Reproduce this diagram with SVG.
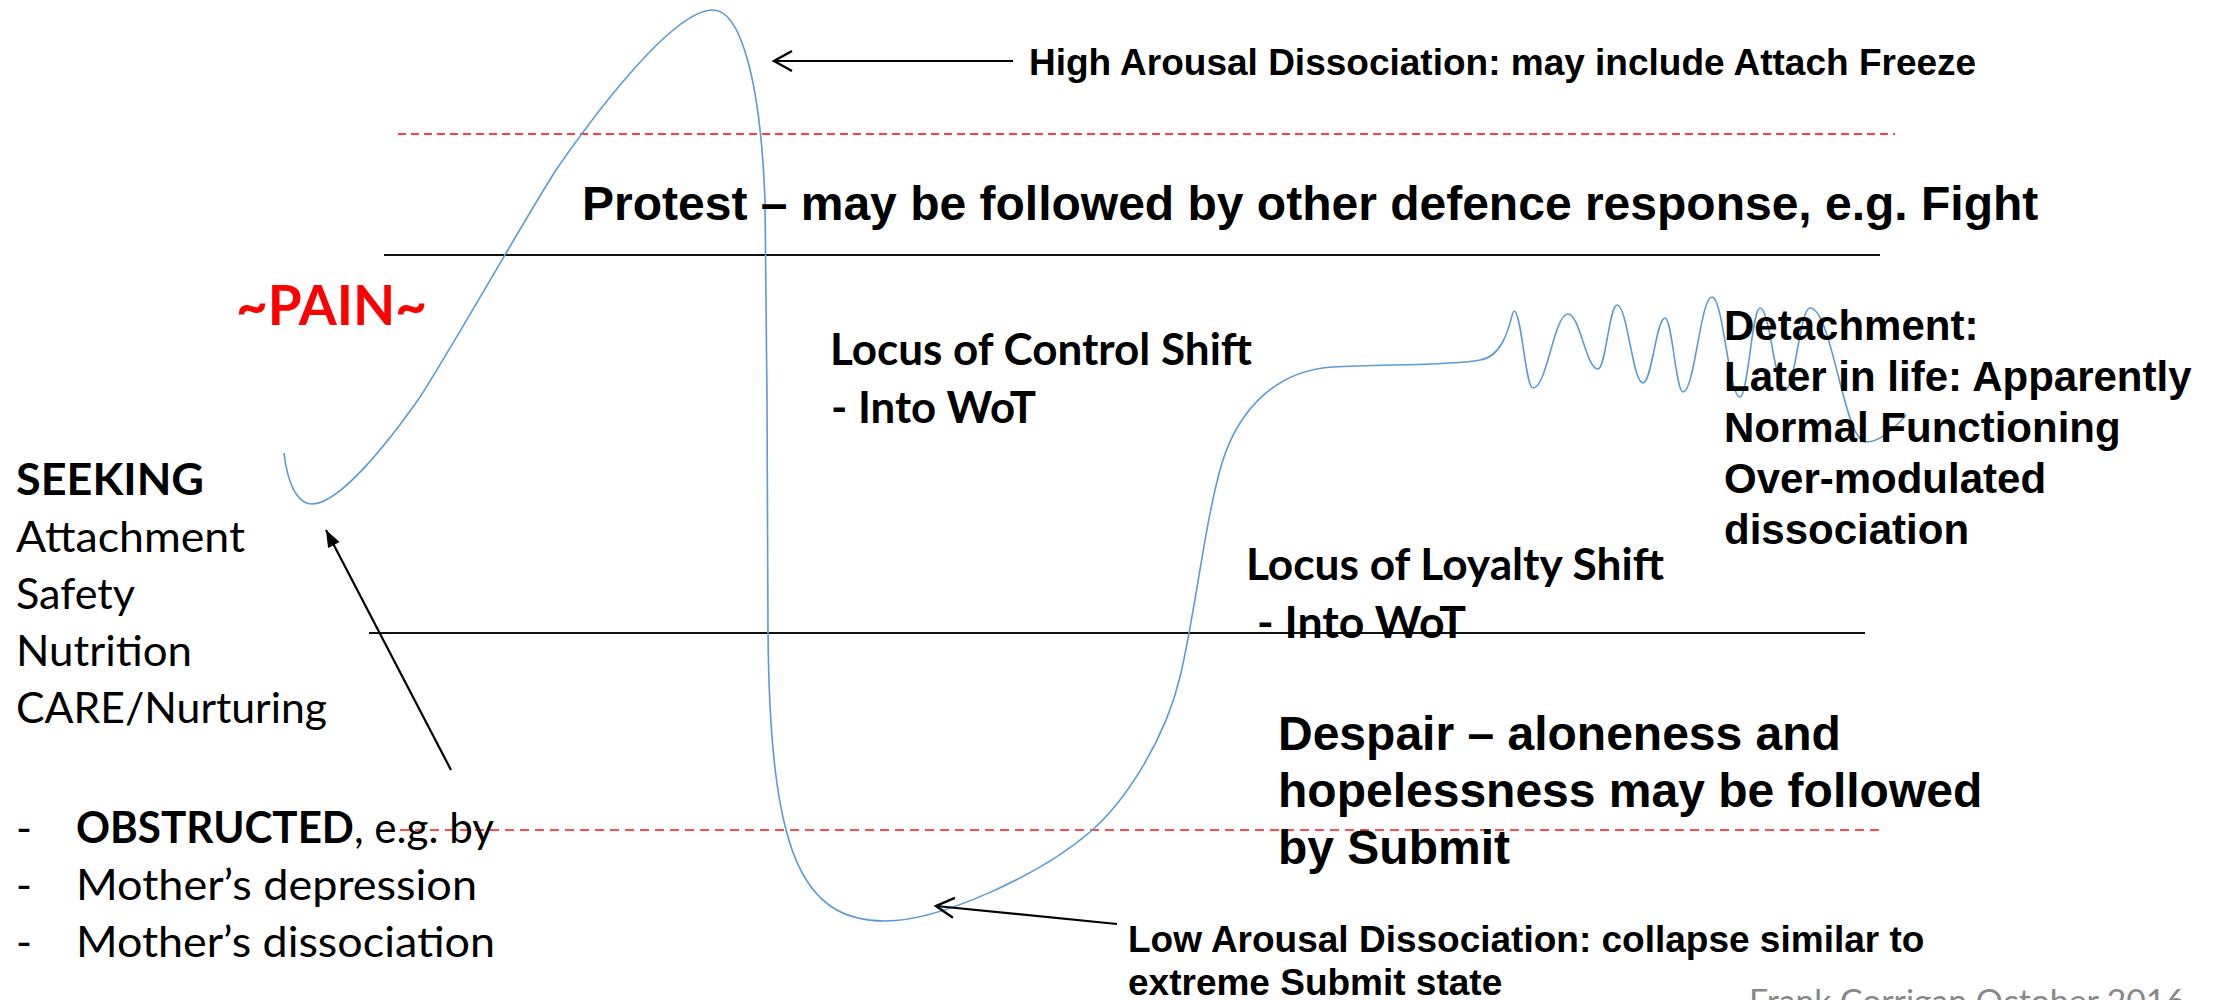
<svg xmlns="http://www.w3.org/2000/svg" width="2226" height="1000" viewBox="0 0 2226 1000">
  <style>
    .cal { font-family: Lato, "Open Sans", sans-serif; font-size: 43px; fill: #000; }
    .calb { font-family: Lato, "Open Sans", sans-serif; font-size: 43px; font-weight: bold; fill: #000; }
    .ari { font-family: "Liberation Sans", Arial, sans-serif; font-weight: bold; fill: #000; }
    .red-dash { stroke: #ff0000; stroke-width: 1.5; stroke-dasharray: 8 5; fill: none; }
    .red-dash2 { stroke: #ff4b4b; stroke-width: 2; stroke-dasharray: 9 6; fill: none; }
    .rule { stroke: #111; stroke-width: 2; fill: none; }
    .wave { stroke: #5b9bd5; stroke-width: 1.6; fill: none; }
    .arrow { stroke: #000; stroke-width: 2.2; fill: none; }
  </style>
  <defs>
    <marker id="open-head" markerUnits="userSpaceOnUse" markerWidth="24" markerHeight="26" viewBox="-21 -13 24 26" refX="0" refY="0" orient="auto" overflow="visible">
      <path d="M -18 -10 L 0 0 L -18 10" fill="none" stroke="#000" stroke-width="2.4" stroke-linejoin="miter"/>
    </marker>
    <marker id="solid-head" markerUnits="userSpaceOnUse" markerWidth="20" markerHeight="16" viewBox="-18 -8 20 16" refX="0" refY="0" orient="auto" overflow="visible">
      <path d="M 0 0 L -17 -6.5 L -17 6.5 Z" fill="#000"/>
    </marker>
  </defs>
  <rect x="0" y="0" width="2226" height="1000" fill="#fff"/>

  <g id="guide-lines">
    <line class="red-dash" x1="398" y1="134" x2="1895" y2="134"/>
    <line class="rule" x1="384" y1="255" x2="1880" y2="255"/>
    <line class="rule" x1="369" y1="633" x2="1865" y2="633"/>
    <line class="red-dash2" x1="385" y1="830" x2="1880" y2="830"/>
  </g>

  <g id="arousal-curve">
    <path class="wave" d="M 284 453 C 287 480 296 504 312 504 C 340 504 390 440 420 397 C 450 351 527 215 556 170 C 585 128 670 10 713 10 C 738 10 760 70 765 200 L 767 400 L 768 633 C 770 850 800 921 885 921 C 940 921 1040 875 1090 832 C 1125 802 1165 740 1180 677 C 1195 615 1205 520 1222 463 C 1240 405 1280 370 1333 367 C 1380 364 1450 366 1480 360 C 1508 356 1511 311 1514 311 C 1521.6 311 1525.4 388 1533 388 C 1547 388 1554 314 1568 314 C 1580 314 1586 369 1598 369 C 1605.6 369 1609.4 305 1617 305 C 1627.4 305 1632.6 383 1643 383 C 1651.8 383 1656.2 318 1665 318 C 1672.2 318 1675.8 392 1683 392 C 1694.6 392 1700.4 297 1712 297 C 1723.2 297 1728.8 397 1740 397 C 1748 397 1752 308 1760 308 C 1770 308 1775 390 1785 390 C 1795 390 1800 308 1810 308 C 1832 308 1844 442 1866 442 C 1880 442 1895 428 1906 415"/>
  </g>

  <g id="connectors">
    <line class="arrow" x1="1013" y1="61" x2="774" y2="61" marker-end="url(#open-head)"/>
    <line class="arrow" x1="1117" y1="924" x2="936" y2="906" stroke-width="2.6" marker-end="url(#open-head)"/>
    <line class="arrow" x1="451" y1="770" x2="326" y2="530" marker-end="url(#solid-head)"/>
  </g>

  <g id="label-high-arousal">
    <text class="ari" x="1029" y="75" font-size="37">High Arousal Dissociation: may include Attach Freeze</text>
  </g>

  <g id="label-protest">
    <text class="ari" x="582" y="220" font-size="48">Protest – may be followed by other defence response, e.g. Fight</text>
  </g>

  <g id="label-pain">
    <text class="calb" x="236" y="325" style="font-size:56px;fill:#ff0000" textLength="191" lengthAdjust="spacingAndGlyphs">~PAIN~</text>
  </g>

  <g id="label-seeking">
    <text class="calb" x="16" y="495" textLength="188" lengthAdjust="spacingAndGlyphs">SEEKING</text>
    <text class="cal" x="16" y="552" textLength="229" lengthAdjust="spacingAndGlyphs">Attachment</text>
    <text class="cal" x="16" y="609" textLength="119" lengthAdjust="spacingAndGlyphs">Safety</text>
    <text class="cal" x="16" y="666" textLength="176" lengthAdjust="spacingAndGlyphs">Nutrition</text>
    <text class="cal" x="16" y="723" textLength="311" lengthAdjust="spacingAndGlyphs">CARE/Nurturing</text>
  </g>

  <g id="label-obstructed">
    <text class="cal" x="16" y="843">-</text>
    <text class="cal" x="76" y="843" textLength="418" lengthAdjust="spacingAndGlyphs"><tspan font-weight="bold">OBSTRUCTED</tspan>, e.g. by</text>
    <text class="cal" x="16" y="900">-</text>
    <text class="cal" x="76" y="900" textLength="401" lengthAdjust="spacingAndGlyphs">Mother’s depression</text>
    <text class="cal" x="16" y="957">-</text>
    <text class="cal" x="76" y="957" textLength="419" lengthAdjust="spacingAndGlyphs">Mother’s dissociation</text>
  </g>

  <g id="label-control-shift">
    <text class="calb" x="830" y="365" textLength="422" lengthAdjust="spacingAndGlyphs">Locus of Control Shift</text>
    <text class="calb" x="831" y="423" textLength="205" lengthAdjust="spacingAndGlyphs">- Into WoT</text>
  </g>

  <g id="label-detachment">
    <text class="ari" x="1724" y="340" font-size="42">Detachment:</text>
    <text class="ari" x="1724" y="391" font-size="42">Later in life: Apparently</text>
    <text class="ari" x="1724" y="442" font-size="42">Normal Functioning</text>
    <text class="ari" x="1724" y="493" font-size="42">Over-modulated</text>
    <text class="ari" x="1724" y="544" font-size="42">dissociation</text>
  </g>

  <g id="label-loyalty-shift">
    <text class="calb" x="1246" y="580" textLength="418" lengthAdjust="spacingAndGlyphs">Locus of Loyalty Shift</text>
    <text class="calb" x="1257" y="638" textLength="209" lengthAdjust="spacingAndGlyphs">- Into WoT</text>
  </g>

  <g id="label-despair">
    <text class="ari" x="1278" y="750" font-size="48">Despair – aloneness and</text>
    <text class="ari" x="1278" y="807" font-size="48">hopelessness may be followed</text>
    <text class="ari" x="1278" y="864" font-size="48">by Submit</text>
  </g>

  <g id="label-low-arousal">
    <text class="ari" x="1128" y="952" font-size="37">Low Arousal Dissociation: collapse similar to</text>
    <text class="ari" x="1128" y="995" font-size="37">extreme Submit state</text>
  </g>

  <g id="label-credit">
    <text class="cal" x="1749" y="1013" style="font-size:33px;fill:#888888" textLength="436" lengthAdjust="spacingAndGlyphs">Frank Corrigan October 2016</text>
  </g>
</svg>
